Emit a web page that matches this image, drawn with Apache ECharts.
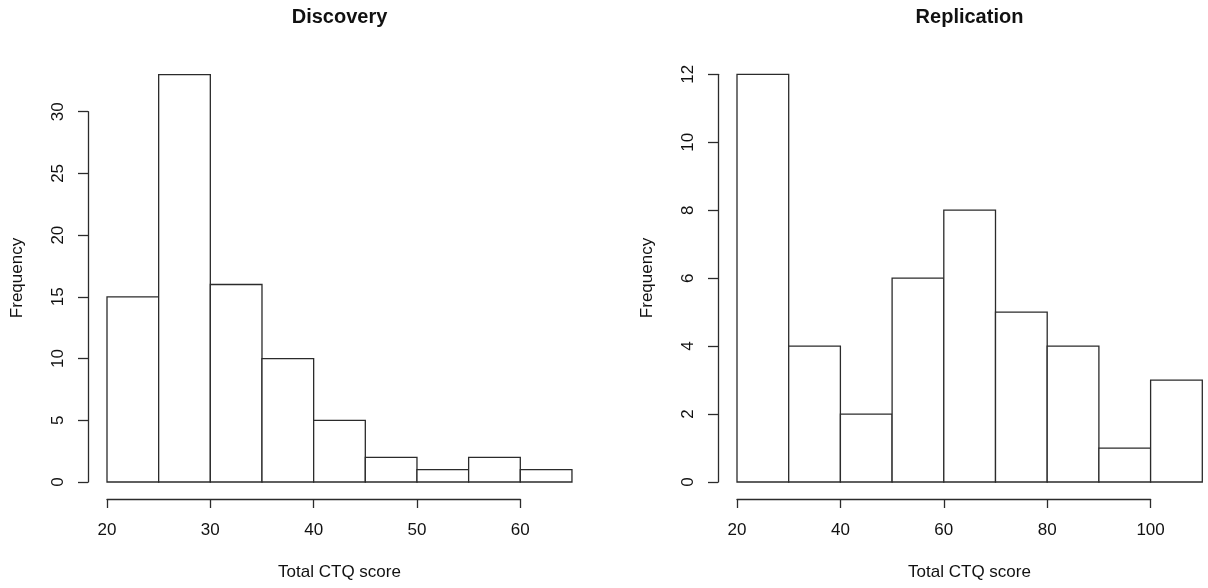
<!DOCTYPE html>
<html>
<head>
<meta charset="utf-8">
<script src="https://cdn.jsdelivr.net/npm/echarts@6/dist/echarts.min.js"></script>
<style>
  html, body { margin: 0; padding: 0; background: #fff; }
  #main { width: 1208px; height: 588px; }
</style>
</head>
<body>
<div id="main"></div>
<script>
// histogram bins (breaks) and counts
var discBreaks = [20, 25, 30, 35, 40, 45, 50, 55, 60, 65];
var discCounts = [15, 33, 16, 10, 5, 2, 1, 2, 1];
var repBreaks = [20, 30, 40, 50, 60, 70, 80, 90, 100, 110];
var repCounts = [12, 4, 2, 6, 8, 5, 4, 1, 3];

var panelTitles = ['Discovery', 'Replication'];
var xTitle = 'Total CTQ score';
var yTitle = 'Frequency';

var FONT = '"Liberation Sans", Arial, sans-serif';
var LINE = '#2b2b2b';
var LW = 1.3;

function toBins(breaks, counts) {
    var out = [];
    for (var i = 0; i < counts.length; i++) {
        out.push([breaks[i], breaks[i + 1], counts[i]]);
    }
    return out;
}

// one rect per bin, drawn from the axis scales
function renderBin(params, api) {
    var p0 = api.coord([api.value(0), 0]);
    var p1 = api.coord([api.value(1), api.value(2)]);
    return {
        type: 'rect',
        shape: { x: p0[0], y: p1[1], width: p1[0] - p0[0], height: p0[1] - p1[1] },
        style: { fill: '#fff', stroke: LINE, lineWidth: LW }
    };
}

function xAxisOf(idx, min, max, step) {
    return {
        type: 'value', gridIndex: idx, min: min, max: max, interval: step,
        offset: 17,
        axisLine: { show: true, onZero: false, lineStyle: { color: LINE, width: LW } },
        axisTick: { show: true, length: 9, lineStyle: { color: LINE, width: LW } },
        axisLabel: { margin: 23, color: '#111', fontSize: 17, fontFamily: FONT },
        splitLine: { show: false }
    };
}

function yAxisOf(idx, min, max, step) {
    return {
        type: 'value', gridIndex: idx, min: min, max: max, interval: step,
        offset: 19,
        axisLine: { show: true, onZero: false, lineStyle: { color: LINE, width: LW } },
        axisTick: { show: true, length: 10, lineStyle: { color: LINE, width: LW } },
        axisLabel: { rotate: 90, margin: 21, color: '#111', fontSize: 17, fontFamily: FONT },
        splitLine: { show: false }
    };
}

function label(text, x, y, opts) {
    opts = opts || {};
    return {
        type: 'text', x: x, y: y, rotation: opts.rotation || 0,
        style: {
            text: text, fill: '#111', font: (opts.bold ? 'bold ' : '') + (opts.size || 17) + 'px ' + FONT,
            textAlign: 'center', textVerticalAlign: 'middle'
        }
    };
}

var chart = echarts.init(document.getElementById('main'));
chart.setOption({
    backgroundColor: '#fff',
    animation: false,
    grid: [
        { left: 107, top: 111.7, width: 413.3, height: 370.3 },
        { left: 737, top: 74.3, width: 413.6, height: 407.7 }
    ],
    xAxis: [xAxisOf(0, 20, 60, 10), xAxisOf(1, 20, 100, 20)],
    yAxis: [yAxisOf(0, 0, 30, 5), yAxisOf(1, 0, 12, 2)],
    series: [
        { type: 'custom', xAxisIndex: 0, yAxisIndex: 0, clip: false,
          renderItem: renderBin, encode: { x: [0, 1], y: 2 }, data: toBins(discBreaks, discCounts) },
        { type: 'custom', xAxisIndex: 1, yAxisIndex: 1, clip: false,
          renderItem: renderBin, encode: { x: [0, 1], y: 2 }, data: toBins(repBreaks, repCounts) }
    ],
    graphic: [
        label(panelTitles[0], 339.5, 17, { bold: true, size: 20 }),
        label(panelTitles[1], 969.5, 17, { bold: true, size: 20 }),
        label(xTitle, 339.5, 572),
        label(xTitle, 969.5, 572),
        label(yTitle, 17, 278, { rotation: Math.PI / 2 }),
        label(yTitle, 647, 278, { rotation: Math.PI / 2 })
    ]
});
</script>
</body>
</html>
